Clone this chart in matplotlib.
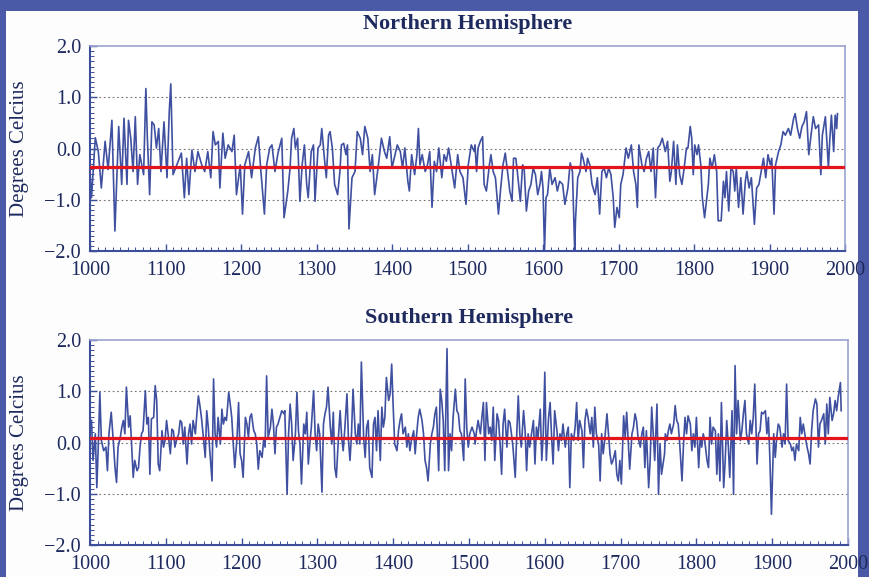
"""
Millennial temperature reconstructions for both hemispheres, redrawn in matplotlib.
"""
import matplotlib
matplotlib.use("Agg")
import matplotlib.pyplot as plt
from matplotlib.patches import Rectangle
from matplotlib.ticker import MultipleLocator

plt.rcParams['font.family'] = ['Liberation Serif', 'DejaVu Serif']

# Northern Hemisphere anomalies (years, degrees C)
nh_years = [
    1000, 1002, 1007, 1011, 1015, 1020, 1024, 1029, 1033, 1038, 1042, 1045, 1049, 1051, 1054, 1057,
    1060, 1063, 1066, 1071, 1074, 1076, 1079, 1082, 1085, 1088, 1091, 1094, 1098, 1102, 1105, 1107,
    1110, 1115, 1121, 1125, 1128, 1131, 1135, 1139, 1143, 1148, 1152, 1156, 1160, 1163, 1166, 1170,
    1172, 1176, 1179, 1183, 1188, 1191, 1194, 1199, 1202, 1205, 1210, 1214, 1219, 1223, 1226, 1231,
    1234, 1238, 1241, 1245, 1249, 1254, 1257, 1262, 1265, 1267, 1270, 1272, 1275, 1278, 1281, 1284,
    1287, 1289, 1293, 1296, 1298, 1302, 1305, 1307, 1310, 1313, 1316, 1318, 1321, 1324, 1328, 1331,
    1333, 1336, 1339, 1341, 1343, 1347, 1351, 1354, 1358, 1361, 1364, 1368, 1371, 1374, 1377, 1382,
    1386, 1390, 1393, 1397, 1400, 1404, 1407, 1411, 1414, 1417, 1421, 1423, 1426, 1430, 1433, 1435,
    1437, 1440, 1444, 1447, 1450, 1453, 1456, 1459, 1462, 1466, 1469, 1472, 1475, 1479, 1483, 1487,
    1490, 1494, 1498, 1501, 1505, 1509, 1510, 1512, 1514, 1517, 1520, 1522, 1525, 1529, 1531, 1534,
    1537, 1541, 1544, 1547, 1550, 1553, 1556, 1559, 1561, 1564, 1566, 1570, 1573, 1575, 1578, 1581,
    1584, 1587, 1590, 1593, 1596, 1598, 1600, 1602, 1604, 1606, 1609, 1612, 1616, 1619, 1622, 1626,
    1629, 1633, 1636, 1639, 1642, 1643, 1646, 1649, 1651, 1653, 1657, 1659, 1662, 1665, 1669, 1672,
    1675, 1678, 1681, 1684, 1687, 1690, 1693, 1695, 1698, 1701, 1703, 1706, 1710, 1713, 1717, 1720,
    1723, 1725, 1727, 1731, 1734, 1737, 1740, 1743, 1746, 1749, 1752, 1755, 1758, 1761, 1762, 1765,
    1768, 1770, 1773, 1776, 1778, 1781, 1784, 1787, 1790, 1792, 1795, 1797, 1799, 1801, 1804, 1806,
    1809, 1811, 1814, 1817, 1819, 1821, 1824, 1827, 1830, 1832, 1836, 1839, 1841, 1843, 1846, 1849,
    1852, 1854, 1856, 1859, 1862, 1865, 1868, 1870, 1873, 1876, 1880, 1883, 1886, 1889, 1892, 1895,
    1898, 1901, 1903, 1906, 1908, 1912, 1915, 1918, 1921, 1925, 1928, 1932, 1934, 1937, 1940, 1943,
    1946, 1949, 1952, 1955, 1958, 1961, 1965, 1968, 1970, 1974, 1976, 1978, 1980, 1982, 1985, 1987,
    1989, 1990,
]
nh_temp = [
    -0.45, -0.96, 0.21, -0.06, -0.77, 0.14, -0.41, 0.55, -1.61, 0.43, -0.70, 0.59, -0.70, 0.55, 0.20, -0.45,
    0.62, -0.70, -0.12, -0.51, 1.17, 0.20, -0.90, 0.52, 0.46, 0.01, 0.39, -0.45, 0.52, -0.57, 0.72, 1.26,
    -0.51, -0.32, -0.09, -0.96, -0.19, -0.90, -0.03, -0.45, -0.06, -0.32, -0.45, -0.06, -0.57, 0.33, 0.07, 0.14,
    -0.77, 0.30, -0.19, 0.07, -0.06, 0.26, -0.90, -0.32, -1.28, -0.32, -0.06, -0.57, 0.01, 0.23, -0.38, -1.28,
    -0.32, 0.01, 0.07, -0.45, -0.09, 0.20, -1.35, -0.83, -0.38, 0.20, 0.39, 0.01, 0.20, -1.03, -0.32, 0.07,
    -0.70, -0.96, -0.06, 0.07, -1.03, 0.01, 0.07, 0.39, -0.12, -0.57, 0.26, 0.33, 0.01, -0.70, -0.90, -0.45,
    0.07, 0.10, -0.12, 0.07, -1.57, -0.57, -0.45, 0.33, 0.20, -0.12, 0.43, 0.20, -0.45, -0.12, -0.90, -0.32,
    0.20, -0.06, -0.19, 0.23, -0.38, -0.12, 0.07, -0.06, -0.38, 0.01, -0.64, -0.83, -0.12, -0.51, -0.12, 0.39,
    -0.32, -0.12, -0.45, -0.32, -0.06, -1.15, -0.25, -0.45, 0.01, -0.57, -0.12, -0.25, 0.01, -0.38, -0.77, -0.12,
    -0.45, -0.57, -1.09, -0.32, 0.07, -0.06, 0.07, -0.45, 0.01, 0.14, 0.23, -0.70, -0.83, -0.32, -0.12, -0.45,
    -0.57, -1.28, -0.77, -0.32, -0.09, -0.45, -0.83, -1.03, -0.19, -0.19, -0.45, -1.03, -0.32, -0.38, -1.22, -0.83,
    -0.70, -0.38, -0.51, -0.90, -0.70, -0.45, -0.77, -2.00, -0.96, -0.90, -0.38, -0.70, -0.57, -0.83, -0.64, -0.70,
    -1.09, -0.77, -0.28, -0.45, -2.00, -1.41, -0.57, -0.45, -0.09, -0.19, -0.45, -0.19, -0.32, -0.70, -0.90, -0.57,
    -1.28, -0.45, -0.38, -0.57, -0.38, -0.51, -0.96, -1.54, -1.15, -1.35, -0.70, -0.51, 0.01, -0.19, 0.07, -0.45,
    -0.70, -1.15, 0.07, -0.32, -0.45, -0.19, -0.06, -0.45, 0.01, -0.96, 0.01, 0.07, 0.20, 0.01, -0.06, 0.14,
    -0.64, -0.45, 0.14, -0.70, 0.07, -0.51, -0.70, -0.38, 0.01, 0.01, 0.43, 0.20, -0.51, 0.07, -0.12, 0.07,
    -0.32, -0.96, -1.35, -0.96, -0.70, -0.19, -0.38, -0.12, -0.45, -1.41, -1.41, -0.64, -0.96, -0.45, -1.22, -0.38,
    -0.45, -0.83, -0.38, -1.15, -0.57, -1.28, -0.64, -0.45, -0.77, -0.57, -1.48, -0.77, -0.70, -0.45, -0.19, -0.57,
    -0.12, -0.32, -0.19, -1.28, -0.32, -0.06, 0.07, 0.33, 0.26, 0.39, 0.26, 0.59, 0.68, 0.39, 0.20, 0.43,
    0.52, 0.72, -0.12, 0.26, 0.62, 0.39, 0.46, -0.51, 0.26, 0.62, 0.14, -0.38, 0.20, 0.65, -0.06, 0.65,
    0.39, 0.68,
]

# Southern Hemisphere anomalies (years, degrees C)
sh_years = [
    1002, 1004, 1007, 1009, 1011, 1013, 1015, 1018, 1021, 1023, 1025, 1028, 1031, 1033, 1035, 1037,
    1040, 1042, 1044, 1046, 1048, 1051, 1053, 1055, 1057, 1059, 1062, 1064, 1066, 1068, 1070, 1073,
    1075, 1077, 1079, 1081, 1084, 1086, 1088, 1090, 1092, 1095, 1097, 1099, 1101, 1103, 1106, 1108,
    1110, 1112, 1114, 1117, 1119, 1121, 1123, 1125, 1128, 1130, 1132, 1134, 1136, 1139, 1141, 1143,
    1145, 1147, 1150, 1152, 1154, 1156, 1158, 1161, 1163, 1165, 1167, 1169, 1172, 1174, 1176, 1178,
    1180, 1183, 1185, 1187, 1189, 1191, 1194, 1196, 1198, 1200, 1202, 1205, 1207, 1209, 1211, 1213,
    1216, 1218, 1220, 1222, 1224, 1227, 1229, 1231, 1233, 1235, 1238, 1240, 1242, 1244, 1246, 1248,
    1253, 1256, 1257, 1260, 1262, 1264, 1266, 1268, 1271, 1273, 1275, 1277, 1279, 1282, 1284, 1286,
    1288, 1290, 1292, 1295, 1297, 1299, 1301, 1303, 1306, 1308, 1310, 1312, 1314, 1317, 1319, 1321,
    1323, 1325, 1328, 1330, 1332, 1334, 1336, 1339, 1341, 1343, 1345, 1347, 1350, 1352, 1354, 1356,
    1358, 1361, 1363, 1365, 1367, 1369, 1372, 1374, 1376, 1378, 1380, 1383, 1385, 1387, 1389, 1391,
    1394, 1396, 1398, 1400, 1402, 1405, 1407, 1409, 1411, 1413, 1416, 1418, 1420, 1422, 1424, 1427,
    1429, 1431, 1433, 1435, 1438, 1440, 1442, 1444, 1446, 1449, 1451, 1453, 1455, 1457, 1460, 1462,
    1464, 1466, 1468, 1471, 1473, 1475, 1477, 1479, 1482, 1484, 1486, 1488, 1490, 1493, 1495, 1497,
    1499, 1501, 1504, 1507, 1508, 1510, 1512, 1515, 1517, 1519, 1521, 1523, 1526, 1528, 1530, 1532,
    1534, 1537, 1539, 1541, 1543, 1545, 1547, 1550, 1552, 1554, 1556, 1558, 1561, 1563, 1565, 1567,
    1569, 1572, 1574, 1576, 1578, 1580, 1583, 1585, 1587, 1589, 1591, 1594, 1596, 1598, 1600, 1602,
    1605, 1607, 1609, 1611, 1613, 1616, 1618, 1620, 1622, 1624, 1627, 1629, 1631, 1633, 1635, 1638,
    1640, 1642, 1644, 1646, 1649, 1651, 1653, 1655, 1657, 1660, 1662, 1664, 1666, 1668, 1671, 1673,
    1675, 1677, 1679, 1682, 1684, 1686, 1688, 1690, 1693, 1695, 1697, 1699, 1701, 1704, 1706, 1708,
    1710, 1712, 1715, 1717, 1719, 1721, 1723, 1726, 1728, 1730, 1732, 1734, 1737, 1739, 1741, 1743,
    1745, 1748, 1750, 1752, 1754, 1758, 1759, 1761, 1763, 1765, 1767, 1770, 1772, 1774, 1776, 1778,
    1781, 1783, 1785, 1787, 1789, 1792, 1794, 1796, 1798, 1800, 1803, 1805, 1807, 1809, 1811, 1814,
    1816, 1818, 1820, 1822, 1825, 1827, 1829, 1831, 1833, 1836, 1838, 1840, 1842, 1844, 1847, 1849,
    1851, 1853, 1855, 1858, 1860, 1862, 1864, 1866, 1869, 1871, 1873, 1875, 1877, 1880, 1882, 1884,
    1886, 1888, 1891, 1893, 1895, 1897, 1899, 1902, 1904, 1906, 1908, 1910, 1913, 1915, 1917, 1919,
    1921, 1924, 1926, 1928, 1930, 1932, 1935, 1937, 1939, 1941, 1943, 1946, 1948, 1950, 1952, 1954,
    1957, 1959, 1961, 1963, 1965, 1968, 1970, 1972, 1974, 1976, 1979, 1981, 1983, 1985, 1987, 1990,
    1991,
]
sh_temp = [
    0.43, -0.35, 0.17, -0.88, -0.03, 0.98, 0.04, -0.16, -0.09, -0.55, 0.17, 0.59, -0.03, -0.49, -0.78, -0.09,
    0.10, 0.30, 0.43, 0.17, 1.08, 0.30, 0.52, -0.09, -0.68, -0.35, -0.55, -0.49, -0.09, 0.17, 0.23, 1.01,
    0.36, 0.49, -0.62, 0.46, 0.49, 1.11, 0.82, -0.42, -0.55, 0.23, -0.09, 0.04, 0.43, 0.17, -0.22, 0.26,
    0.23, -0.09, 0.04, 0.17, 0.43, 0.39, -0.03, 0.30, -0.42, 0.17, 0.36, -0.03, 0.43, 0.17, 0.56, 0.91,
    0.72, 0.49, 0.04, -0.29, 0.62, 0.30, -0.16, -0.75, 1.24, 0.17, -0.09, 0.49, -0.03, 0.65, 0.36, 0.49,
    0.43, 0.98, 0.75, 0.49, -0.03, -0.49, 0.10, 0.78, -0.22, -0.35, -0.68, 0.49, 0.36, 0.10, 0.49, 0.56,
    0.23, 0.17, -0.03, -0.52, -0.16, -0.29, 0.04, -0.09, 1.30, 0.10, 0.30, 0.65, 0.36, -0.22, 0.30, 0.36,
    0.62, 0.56, 0.62, -1.01, 0.17, 0.75, 0.36, -0.35, 0.17, 0.98, 0.23, -0.03, -0.81, 0.36, 0.17, 0.59,
    -0.42, -0.03, 0.30, 1.01, 0.17, -0.16, 0.36, 0.17, -0.97, 0.36, 0.56, 0.69, 1.08, 0.30, -0.03, 0.59,
    -0.49, -0.68, 0.17, 0.62, 0.10, -0.16, 0.23, 0.95, 0.04, -0.35, 0.17, 1.04, 0.17, -0.03, 0.36, -0.03,
    1.57, 0.10, -0.29, 0.30, 0.43, -0.49, -0.68, 0.36, 0.49, -0.16, 0.62, -0.35, 0.69, 0.30, 0.49, 1.27,
    0.82, 0.95, 1.53, 0.69, -0.03, -0.16, 0.23, 0.43, 0.56, 0.17, 0.30, -0.09, 0.17, -0.16, 0.04, 0.23,
    -0.22, 0.17, 0.49, 0.65, 0.43, 0.17, -0.35, -0.49, -0.75, -0.03, 0.17, 0.30, 0.56, 0.69, -0.55, 1.04,
    0.82, 0.43, -0.55, 1.83, -0.55, 0.17, -0.16, 0.49, 1.04, 0.62, 0.56, 0.23, 0.17, -0.35, 1.24, 0.30,
    -0.09, 0.17, 0.30, 0.17, -0.03, 0.23, 0.43, 0.17, 0.49, 0.78, -0.35, 0.78, 0.17, 0.30, 0.04, 0.69,
    -0.35, 0.56, 0.43, -0.03, -0.62, 0.36, 0.65, -0.09, 0.43, 0.39, 0.17, -0.09, -0.68, 0.17, 0.91, 0.17,
    -0.09, 0.62, 0.23, -0.55, 0.17, -0.09, 0.23, 0.43, -0.42, 0.30, 0.10, 0.65, -0.35, 0.17, 1.37, -0.35,
    0.49, 0.78, 0.10, -0.42, 0.62, 0.23, -0.16, 0.17, 0.04, 0.36, -0.09, 0.17, 0.30, -0.88, 0.17, 0.04,
    0.30, 0.78, 0.04, 0.43, 0.23, -0.49, 0.43, 0.65, 0.49, 0.17, 0.49, -0.09, 0.69, 0.17, -0.03, -0.75,
    0.17, -0.22, 0.04, 0.56, 0.17, -0.22, -0.42, -0.35, -0.16, -0.62, -0.75, -0.35, -0.81, 0.52, 0.10, 0.59,
    0.04, -0.52, 0.17, 0.30, 0.56, 0.43, 0.10, -0.09, 0.17, 0.30, -0.49, 0.23, -0.88, -0.35, 0.69, 0.17,
    -0.35, 0.75, -1.01, -0.03, -0.62, -0.22, 0.17, 0.04, 0.23, 0.36, 0.17, 0.36, 0.72, 0.43, 0.36, -0.03,
    -0.75, -0.03, 0.49, 0.17, 0.52, 0.36, -0.16, 0.17, -0.09, 0.49, -0.49, 0.10, -0.09, 0.17, 0.04, -0.35,
    -0.49, 0.49, -0.03, 0.30, 0.23, -0.62, 0.17, -0.75, 0.78, -0.88, -0.35, 0.43, -0.03, -0.68, 0.62, -1.01,
    1.50, 0.17, 0.82, 0.04, 0.23, 0.56, 0.82, 0.17, -0.03, 0.43, 0.17, 0.49, 1.14, -0.42, 0.17, 0.23,
    0.59, 0.56, 0.62, 0.17, 0.49, -0.35, -1.40, 0.17, -0.29, 0.10, 0.36, 0.30, -0.09, 0.17, -0.03, 1.14,
    0.04, -0.03, -0.16, -0.09, -0.35, -0.03, -0.16, 0.49, 0.17, 0.36, 0.17, -0.09, -0.22, -0.42, 0.23, 0.62,
    0.85, 0.75, -0.09, 0.36, 0.43, 0.56, -0.03, 0.75, 0.17, 0.88, 0.43, 0.56, 0.82, 0.62, 0.88, 1.17,
    0.62,
]

nh_mean = -0.37
sh_mean = 0.09

frame_blue = "#4b5aa6"
line_blue = "#3f50a0"
navy = "#1e2a5e"
red = "#e3141c"

fig = plt.figure(figsize=(8.69, 5.77), dpi=100, facecolor=frame_blue)
# white card sitting inside the blue frame
card = Rectangle((6 / 869, 0), 852 / 869, 1 - 11 / 577, transform=fig.transFigure,
                 facecolor="#fdfdfe", edgecolor="none", zorder=-10)
fig.add_artist(card)

panels = [
    ([90 / 869, 1 - 251 / 577, 755 / 869, 205 / 577], nh_years, nh_temp, nh_mean, "Northern Hemisphere"),
    ([90 / 869, 1 - 545 / 577, 758 / 869, 205 / 577], sh_years, sh_temp, sh_mean, "Southern Hemisphere"),
]

for rect, years, temp, mean, title in panels:
    ax = fig.add_axes(rect)
    ax.set_zorder(1)
    ax.set_facecolor("white")
    ax.plot(years, temp, color=line_blue, lw=1.2, zorder=3)
    ax.axhline(mean, color=red, lw=2.3, zorder=4)
    for yv in (-1.0, 0.0, 1.0):
        ax.axhline(yv, color="#707070", lw=0.8, ls=(0, (1.5, 2.5)), zorder=1)

    ax.set_xlim(1000, 2000)
    ax.set_ylim(-2.0, 2.0)
    ax.xaxis.set_major_locator(MultipleLocator(100))
    ax.xaxis.set_minor_locator(MultipleLocator(10))
    ax.yaxis.set_major_locator(MultipleLocator(1.0))
    ax.yaxis.set_minor_locator(MultipleLocator(0.1))
    ax.yaxis.set_major_formatter(plt.FuncFormatter(lambda v, p: f"{v:.1f}".replace("-", "\u2212")))

    ax.tick_params(which="both", direction="in", color="#3d4f9a", labelcolor=navy,
                   labelsize=14.5, top=False, right=False)
    ax.tick_params(which="major", length=5, width=1.0)
    ax.tick_params(which="minor", length=3, width=0.7)
    ax.tick_params(axis="x", which="major", pad=7)
    ax.tick_params(axis="y", which="major", pad=6.5)
    for side in ("left", "bottom"):
        ax.spines[side].set_color("#3d4f9a")
        ax.spines[side].set_linewidth(1.5)
    for side in ("top", "right"):
        ax.spines[side].set_color("#9aa3cf")
        ax.spines[side].set_linewidth(1.2)

    ax.set_ylabel("Degrees Celcius", color=navy, fontsize=15)
    ax.yaxis.set_label_coords(-0.081, 0.5)
    ax.set_title(title, color=navy, fontsize=16, fontweight="bold", pad=12)

fig.savefig("out.png", dpi=100, facecolor=fig.get_facecolor())
